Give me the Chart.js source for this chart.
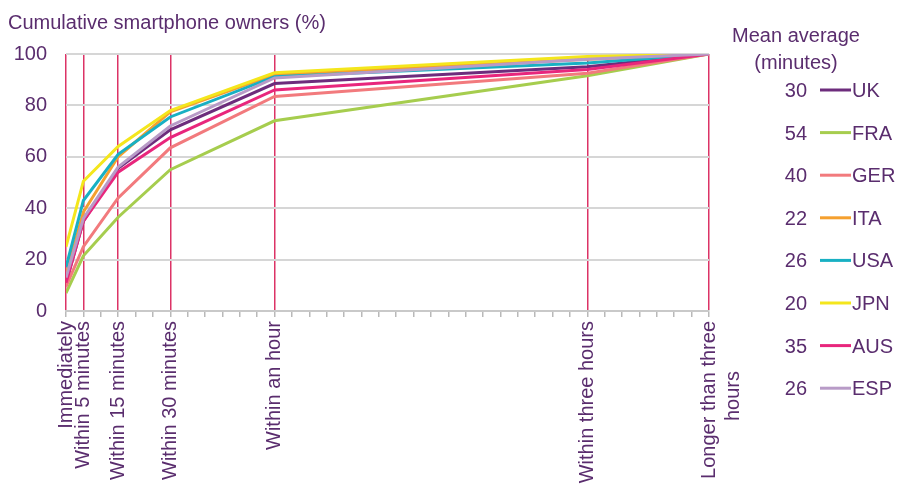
<!DOCTYPE html>
<html><head><meta charset="utf-8">
<script src="https://cdn.jsdelivr.net/npm/chart.js@4/dist/chart.umd.min.js"></script>
<style>html,body{margin:0;padding:0;background:#fff;}#wrap{width:898px;height:489px;position:relative;}</style>
</head><body><div id="wrap"><canvas id="c"></canvas></div>
<script>
// ---- data ----
const categories = ['Immediately', 'Within 5 minutes', 'Within 15 minutes', 'Within 30 minutes', 'Within an hour', 'Within three hours', ['Longer than three', 'hours         ']];
const categoryPositions = [0, 1, 3, 6, 12, 30, 37]; // axis position in 5-minute units
const countries = ['UK', 'FRA', 'GER', 'ITA', 'USA', 'JPN', 'AUS', 'ESP'];
const meanMinutes = [30, 54, 40, 22, 26, 20, 35, 26];
const UK  = [11, 35, 55.5, 70.5, 88.5, 95, 100];
const FRA = [7, 21.5, 36.5, 55, 74, 91.5, 100];
const GER = [9.5, 25, 44, 63.5, 83.5, 92.5, 100];
const ITA = [14, 38.5, 60, 77.5, 92, 98, 100];
const USA = [17, 43, 61, 75.5, 91.2, 96.5, 100];
const JPN = [25, 50.5, 64, 78, 92.7, 99, 100];
const AUS = [11, 35, 54, 67.5, 86, 94, 100];
const ESP = [13, 36, 56, 72, 90.7, 98, 100];
const yTicks = [0, 20, 40, 60, 80, 100];

const seriesValues = [UK, FRA, GER, ITA, USA, JPN, AUS, ESP];
const colors = ['#6d2c7c', '#a6cd4e', '#f27a7d', '#f5a02e', '#18b0c3', '#f4e61c', '#e8267c', '#b89bc7'];
const textColor = '#5a2d6e';
const FONT = '"Liberation Sans", Arial, sans-serif';

const datasets = countries.map((c, i) => ({
  label: c,
  data: seriesValues[i].map((v, j) => ({ x: categoryPositions[j], y: v })),
  borderColor: colors[i],
  backgroundColor: colors[i],
  borderWidth: 3,
  pointRadius: 0,
  tension: 0,
  order: countries.length - i
}));

const overlay = {
  id: 'overlay',
  afterDraw(chart) {
    const ctx = chart.ctx;
    ctx.save();
    ctx.fillStyle = textColor;
    ctx.font = '20px ' + FONT;
    ctx.textAlign = 'left';
    ctx.textBaseline = 'alphabetic';
    ctx.fillText('Cumulative smartphone owners (%)', 8, 29);
    ctx.textAlign = 'center';
    ctx.fillText('Mean average', 796, 42);
    ctx.fillText('(minutes)', 796, 69);
    countries.forEach((c, i) => {
      const y = 90 + i * 42.6;
      ctx.textAlign = 'right';
      ctx.fillStyle = textColor;
      ctx.fillText(String(meanMinutes[i]), 807, y + 7);
      ctx.strokeStyle = colors[i];
      ctx.lineWidth = 3;
      ctx.beginPath();
      ctx.moveTo(820, y);
      ctx.lineTo(851, y);
      ctx.stroke();
      ctx.textAlign = 'left';
      ctx.fillText(c, 852, y + 7);
    });
    ctx.restore();
  }
};

new Chart(document.getElementById('c'), {
  type: 'line',
  data: { datasets },
  options: {
    responsive: true,
    maintainAspectRatio: false,
    animation: false,
    layout: { padding: { left: 0, top: 54, right: 189, bottom: 0 } },
    plugins: { legend: { display: false }, tooltip: { enabled: false }, title: { display: false } },
    scales: {
      x: {
        type: 'linear',
        min: 0,
        max: 37,
        afterBuildTicks(scale) {
          const t = [];
          for (let i = scale.min; i <= scale.max; i++) t.push({ value: i });
          scale.ticks = t;
        },
        afterFit(scale) { scale.height = 178; },
        ticks: {
          autoSkip: false,
          minRotation: 90,
          maxRotation: 90,
          padding: 4,
          color: textColor,
          font: { family: FONT, size: 20 },
          callback(value) {
            const idx = categoryPositions.indexOf(value);
            return idx >= 0 ? categories[idx] : '';
          }
        },
        grid: {
          color(ctx) {
            return ctx.tick && categoryPositions.includes(ctx.tick.value) ? '#dc3366' : 'rgba(0,0,0,0)';
          },
          lineWidth: 1.5,
          tickColor: '#b9b9b9',
          tickLength: 6,
          tickWidth: 1.5
        },
        border: { color: '#c9c9c9', width: 2 }
      },
      y: {
        min: 0,
        max: 100,
        afterBuildTicks(scale) { scale.ticks = yTicks.map(v => ({ value: v })); },
        afterFit(scale) { scale.width = 66; },
        ticks: {
          padding: 19,
          color: textColor,
          font: { family: FONT, size: 20 }
        },
        grid: { color: '#d6d6d6', lineWidth: 2, drawTicks: false },
        border: { display: false }
      }
    }
  },
  plugins: [overlay]
});
</script>
</body></html>
